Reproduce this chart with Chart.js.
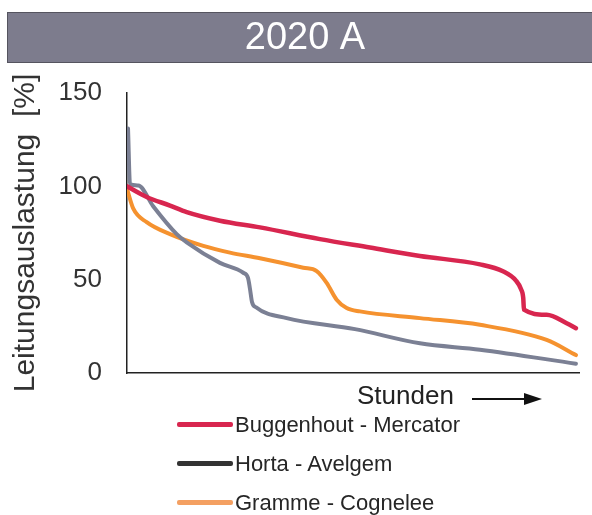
<!DOCTYPE html>
<html>
<head>
<meta charset="utf-8">
<title>2020 A</title>
<script src="https://cdn.jsdelivr.net/npm/chart.js@4"></script>
<style>
  body { margin: 0; background: #fff; }
  #wrap { position: relative; width: 592px; height: 515px; }
  #legend {
    position: absolute; left: 177px; top: 405px; margin: 0; padding: 0; list-style: none;
    font-family: "Liberation Sans", Arial, sans-serif; font-size: 22px; color: #262626;
  }
  #legend li { display: flex; align-items: center; height: 39px; white-space: nowrap; }
  #legend .swatch { display: inline-block; width: 56px; height: 5px; border-radius: 2px; margin-right: 2px; }
</style>
</head>
<body>
<div id="wrap">
  <canvas id="chart" width="592" height="515"></canvas>
  <ul id="legend"></ul>
</div>
<script>
// hours of the year (sorted load duration), load in %
const chartTitle = "2020 A";
const seriesNames = ["Buggenhout - Mercator", "Horta - Avelgem", "Gramme - Cognelee"];

const redHours = [0, 384, 839, 1165, 1814, 2595, 3765, 4741, 5716, 6887, 7336, 7590, 7687, 7732, 7746, 8189, 8579, 8760];
const redLoad = [100, 94.3, 89.7, 86.2, 81.6, 78, 71.7, 67.2, 62.7, 58.2, 54.5, 49.5, 45, 40.2, 33.9, 31.2, 26.7, 24];

const grayHours = [20, 59, 220, 507, 970, 1165, 1814, 2269, 2361, 2400, 2439, 2517, 3116, 4448, 5716, 6887, 8760];
const grayLoad = [131, 101, 100.5, 89.5, 74.4, 70, 59, 53.7, 51, 45, 38, 35.2, 29.4, 23.5, 15.9, 12.5, 5];

const orangeHours = [0, 123, 384, 839, 1489, 2009, 2595, 3440, 3701, 3896, 4091, 4286, 4546, 5716, 6887, 8189, 8760];
const orangeLoad = [98.6, 88, 80.8, 74.4, 68.1, 64.5, 61.5, 56.4, 54.6, 48.3, 39.3, 34.8, 33, 29.4, 25.8, 17.7, 9.6];

const yTicks = [0, 50, 100, 150];

const lineColors = ["#d8264f", "#7b8094", "#f5922f"];
const legendColors = ["#d8264f", "#333333", "#f4a062"];
const FONT = '"Liberation Sans", Arial, sans-serif';

Chart.defaults.font.family = FONT;

function toPoints(hours, load) {
  return hours.map(function (h, i) { return { x: h, y: load[i] }; });
}

// grey heading band with the white title text
const titleBand = {
  id: "titleBand",
  beforeDraw: function (chart) {
    const ctx = chart.ctx;
    ctx.save();
    ctx.fillStyle = "#7d7c8d";
    ctx.fillRect(7, 12, 585, 50);
    ctx.strokeStyle = "#55545f";
    ctx.lineWidth = 1;
    ctx.strokeRect(7.5, 12.5, 585, 50);
    ctx.font = "38px " + FONT;
    ctx.fillStyle = "#ffffff";
    ctx.textAlign = "center";
    ctx.textBaseline = "middle";
    ctx.fillText(chartTitle, 305, 39);
    ctx.restore();
  }
};

const hoursArrow = {
  id: "hoursArrow",
  afterDraw: function (chart) {
    const ctx = chart.ctx;
    const area = chart.chartArea;
    const y = area.bottom + 26;
    ctx.save();
    ctx.font = "26px " + FONT;
    ctx.fillStyle = "#222";
    ctx.textAlign = "left";
    ctx.textBaseline = "middle";
    ctx.fillText("Stunden", area.left + 230, area.bottom + 24);
    const x0 = area.left + 345;
    const x1 = area.left + 415;
    ctx.strokeStyle = "#111";
    ctx.lineWidth = 2;
    ctx.beginPath();
    ctx.moveTo(x0, y);
    ctx.lineTo(x1 - 10, y);
    ctx.stroke();
    ctx.fillStyle = "#111";
    ctx.beginPath();
    ctx.moveTo(x1, y);
    ctx.lineTo(x1 - 18, y - 6);
    ctx.lineTo(x1 - 18, y + 6);
    ctx.closePath();
    ctx.fill();
    ctx.restore();
  }
};

const htmlLegend = {
  id: "htmlLegend",
  afterUpdate: function (chart) {
    const ul = document.getElementById("legend");
    ul.innerHTML = "";
    chart.data.datasets.forEach(function (ds, i) {
      const li = document.createElement("li");
      const sw = document.createElement("span");
      sw.className = "swatch";
      sw.style.background = legendColors[i];
      const txt = document.createElement("span");
      txt.textContent = ds.label;
      li.appendChild(sw);
      li.appendChild(txt);
      ul.appendChild(li);
    });
  }
};

const datasetsRaw = [
  [redHours, redLoad, 4.5],
  [grayHours, grayLoad, 4],
  [orangeHours, orangeLoad, 4]
];

new Chart(document.getElementById("chart"), {
  type: "line",
  data: {
    datasets: datasetsRaw.map(function (d, i) {
      return {
        label: seriesNames[i],
        data: toPoints(d[0], d[1]),
        borderColor: lineColors[i],
        backgroundColor: lineColors[i],
        borderWidth: d[2],
        pointRadius: 0,
        fill: false,
        cubicInterpolationMode: "monotone",
        borderCapStyle: "round",
        borderJoinStyle: "round"
      };
    })
  },
  options: {
    responsive: false,
    animation: false,
    layout: { padding: { left: 0, right: 13, top: 93, bottom: 142 } },
    plugins: {
      legend: { display: false },
      tooltip: { enabled: false },
      title: { display: false }
    },
    scales: {
      x: {
        type: "linear",
        min: 0,
        max: 8820,
        ticks: { display: false },
        grid: { color: "rgba(0,0,0,0)", drawTicks: false },
        border: { display: true, color: "#222", width: 1.5 }
      },
      y: {
        min: 0,
        max: 150,
        afterBuildTicks: function (scale) {
          scale.ticks = yTicks.map(function (v) { return { value: v }; });
        },
        afterFit: function (scale) { scale.width = 127; },
        ticks: { color: "#333", padding: 25, font: { size: 26 } },
        grid: { color: "rgba(0,0,0,0)", drawTicks: false },
        border: { display: true, color: "#222", width: 1.5 },
        title: {
          display: true,
          text: "Leitungsauslastung  [%]",
          color: "#333",
          font: { size: 30 },
          padding: { top: 8, bottom: 0 }
        }
      }
    }
  },
  plugins: [titleBand, hoursArrow, htmlLegend]
});
</script>
</body>
</html>
